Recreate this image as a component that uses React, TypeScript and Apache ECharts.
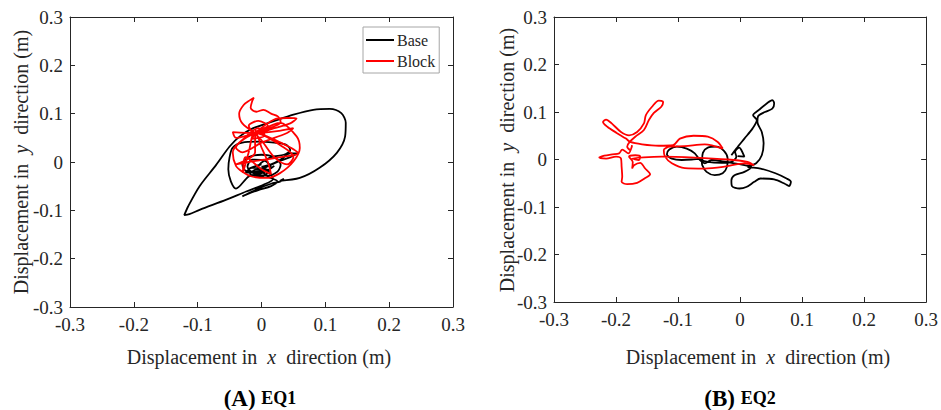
import React, { useEffect, useRef } from "react";
import * as echarts from "echarts";

const AXIS_MIN = -0.3;
const AXIS_MAX = 0.3;
const AXIS_STEP = 0.1;
const seriesNames = ["Base", "Block"];
const panelTitles = [
  ["(A)", "EQ1"],
  ["(B)", "EQ2"],
];

// EQ1 - Base (black)
const eq1Base: number[][] = [
  [0.000, -0.010], [0.015, -0.005], [0.030, 0.005], [0.045, 0.018], [0.057, 0.018], [0.045, 0.010],
  [0.025, 0.000], [0.005, -0.012], [-0.010, -0.020], [-0.025, -0.018], [-0.030, -0.005], [-0.020, 0.010],
  [0.000, 0.015], [0.020, 0.010], [0.030, -0.005], [0.025, -0.020], [0.010, -0.028], [-0.010, -0.025],
  [-0.022, -0.010], [-0.015, 0.005], [0.005, 0.003], [0.015, -0.012], [0.000, -0.022], [-0.020, -0.030],
  [-0.040, -0.055], [-0.048, -0.040], [-0.052, -0.015], [-0.050, 0.010], [-0.045, 0.030], [-0.030, 0.040],
  [-0.005, 0.042], [0.020, 0.040], [0.038, 0.036], [0.045, 0.025], [0.035, 0.015], [0.015, 0.010],
  [-0.005, -0.010], [0.010, -0.030], [0.025, -0.040], [0.015, -0.050], [-0.005, -0.058], [-0.025, -0.068],
  [-0.030, -0.071], [-0.022, -0.066], [-0.005, -0.055], [0.015, -0.045], [0.030, -0.040], [0.035, -0.035],
  [0.029, -0.039], [0.060, -0.033], [0.091, -0.012], [0.118, 0.019], [0.131, 0.053], [0.132, 0.081],
  [0.125, 0.101], [0.107, 0.110], [0.081, 0.108], [0.050, 0.098], [0.018, 0.084], [-0.013, 0.070],
  [-0.034, 0.053], [-0.050, 0.032], [-0.071, -0.006], [-0.097, -0.050], [-0.115, -0.092], [-0.121, -0.110],
  [-0.113, -0.108], [-0.097, -0.099], [-0.055, -0.078], [-0.024, -0.061], [0.003, -0.047], [0.018, -0.035],
  [0.010, -0.020], [-0.008, -0.015], [-0.018, -0.025], [0.000, -0.030], [0.012, -0.018], [-0.015, -0.012],
  [-0.025, -0.022], [0.005, -0.020], [0.020, -0.008], [-0.005, -0.025], [-0.020, -0.015], [0.000, -0.005],
];

// EQ1 - Block (red)
const eq1Block: number[][] = [
  [-0.010, 0.060], [-0.030, 0.080], [-0.035, 0.100], [-0.028, 0.118], [-0.018, 0.128], [-0.012, 0.133],
  [-0.015, 0.124], [-0.017, 0.112], [-0.008, 0.104], [0.003, 0.108], [0.015, 0.100], [0.026, 0.094],
  [0.030, 0.083], [0.022, 0.075], [-0.010, 0.060], [0.020, 0.088], [0.040, 0.091], [0.055, 0.090],
  [0.045, 0.080], [0.020, 0.070], [-0.010, 0.060], [-0.045, 0.062], [-0.040, 0.050], [-0.010, 0.060],
  [0.029, 0.081], [0.055, 0.053], [0.060, 0.029], [0.050, 0.001], [0.029, -0.023], [0.008, -0.033],
  [-0.015, -0.030], [-0.030, -0.020], [-0.040, -0.008], [-0.045, 0.019], [-0.035, 0.040], [-0.010, 0.060],
  [0.000, 0.030], [0.010, 0.000], [0.015, -0.025], [0.000, -0.015], [-0.025, 0.010], [-0.029, -0.023],
  [-0.020, 0.020], [-0.010, 0.060], [0.030, 0.040], [0.057, 0.018], [0.030, 0.010], [-0.020, 0.000],
  [-0.040, -0.005], [-0.010, 0.020], [-0.010, 0.060], [-0.030, 0.045], [-0.040, 0.030], [-0.030, 0.020],
  [0.000, 0.040], [0.040, 0.060], [0.050, 0.070], [0.030, 0.065], [-0.010, 0.060], [-0.020, 0.075],
  [-0.005, 0.085], [0.010, 0.075], [-0.010, 0.060], [0.000, 0.045], [0.020, 0.010], [0.040, -0.005],
  [0.050, 0.010], [0.035, 0.030], [-0.010, 0.060], [-0.025, 0.052], [-0.005, 0.070], [0.005, 0.055],
  [-0.015, 0.048], [-0.008, 0.066],
];

// EQ2 - Base (black)
const eq2Base: number[][] = [
  [-0.014, 0.009], [-0.006, 0.023], [0.007, 0.044], [0.020, 0.065], [0.027, 0.083], [0.021, 0.093],
  [0.031, 0.105], [0.043, 0.118], [0.052, 0.125], [0.055, 0.118], [0.052, 0.107], [0.040, 0.100],
  [0.029, 0.091], [0.028, 0.079], [0.035, 0.058], [0.038, 0.034], [0.035, 0.009], [0.026, -0.008],
  [0.012, -0.015], [0.033, -0.019], [0.057, -0.029], [0.075, -0.040], [0.082, -0.047], [0.079, -0.056],
  [0.072, -0.051], [0.055, -0.042], [0.033, -0.040], [0.023, -0.047], [0.010, -0.058], [-0.001, -0.061],
  [-0.013, -0.056], [-0.014, -0.044], [-0.009, -0.033], [0.007, -0.026], [0.018, -0.015], [0.007, -0.012],
  [-0.009, -0.008], [-0.022, -0.005], [-0.046, -0.001], [-0.057, -0.008], [-0.065, -0.001], [-0.073, 0.013],
  [-0.086, 0.023], [-0.102, 0.027], [-0.114, 0.021], [-0.118, 0.011], [-0.110, 0.002], [-0.094, -0.001],
  [-0.078, 0.000], [-0.063, 0.002], [-0.061, -0.012], [-0.054, -0.026], [-0.041, -0.033], [-0.028, -0.029],
  [-0.021, -0.015], [-0.020, 0.002], [-0.026, 0.018], [-0.038, 0.027], [-0.052, 0.025], [-0.060, 0.014],
  [-0.061, 0.000], [-0.052, -0.005], [-0.030, -0.007], [-0.014, -0.005], [-0.006, 0.006], [-0.008, 0.016],
  [-0.001, 0.025], [0.002, 0.020], [0.007, 0.006], [-0.004, 0.007],
];

// EQ2 - Block (red)
const eq2Block: number[][] = [
  [0.023, -0.012], [0.007, -0.008], [-0.025, -0.015], [-0.057, -0.019], [-0.089, -0.018], [-0.110, -0.008],
  [-0.121, 0.006], [-0.123, 0.020], [-0.113, 0.027], [-0.089, 0.028], [-0.057, 0.032], [-0.028, 0.023],
  [-0.036, 0.037], [-0.052, 0.048], [-0.075, 0.050], [-0.097, 0.044], [-0.108, 0.030], [-0.131, 0.029],
  [-0.158, 0.032], [-0.177, 0.037], [-0.184, 0.044], [-0.199, 0.056], [-0.214, 0.069], [-0.221, 0.079],
  [-0.216, 0.084], [-0.207, 0.076], [-0.192, 0.058], [-0.179, 0.051], [-0.166, 0.058], [-0.155, 0.076],
  [-0.152, 0.093], [-0.142, 0.111], [-0.131, 0.124], [-0.124, 0.121], [-0.127, 0.111], [-0.139, 0.098],
  [-0.147, 0.083], [-0.155, 0.062], [-0.169, 0.048], [-0.178, 0.037], [-0.182, 0.027], [-0.177, 0.020],
  [-0.174, 0.030], [-0.180, 0.013], [-0.190, 0.021], [-0.195, 0.013], [-0.206, 0.011], [-0.219, 0.008],
  [-0.227, 0.004], [-0.216, 0.002], [-0.200, 0.006], [-0.192, 0.002], [-0.191, -0.015], [-0.190, -0.036],
  [-0.191, -0.047], [-0.182, -0.052], [-0.166, -0.049], [-0.153, -0.039], [-0.145, -0.031], [-0.153, -0.019],
  [-0.161, -0.007], [-0.171, -0.012], [-0.174, -0.019], [-0.173, -0.005], [-0.179, 0.006], [-0.169, 0.009],
  [-0.161, 0.006], [-0.163, -0.001], [-0.174, 0.002], [-0.126, 0.006], [-0.073, 0.004], [-0.020, 0.000],
  [0.012, -0.005], [0.020, -0.010],
];

const FONT = "Liberation Serif";
const INK = "#262626";
const TICK_FS = 19;
const TITLE_FS = 20;

function fmt(v: number) {
  if (Math.abs(v) < 1e-9) return "0";
  return v.toFixed(1);
}

function axisCommon(gridIndex: number) {
  return {
    type: "value",
    gridIndex,
    min: AXIS_MIN,
    max: AXIS_MAX,
    interval: AXIS_STEP,
    splitLine: { show: false },
    axisLine: { show: true, onZero: false, lineStyle: { color: INK, width: 1 } },
    axisTick: { show: true, inside: true, length: 5, lineStyle: { color: INK, width: 1 } },
  };
}

function xAxes(gridIndex: number) {
  return [
    {
      ...axisCommon(gridIndex),
      position: "bottom",
      axisLabel: { show: true, margin: 8, fontFamily: FONT, fontSize: TICK_FS, color: INK, formatter: fmt },
    },
    { ...axisCommon(gridIndex), position: "top", axisLabel: { show: false } },
  ];
}

function yAxes(gridIndex: number) {
  return [
    {
      ...axisCommon(gridIndex),
      position: "left",
      axisLabel: { show: true, margin: 7, fontFamily: FONT, fontSize: TICK_FS, color: INK, formatter: fmt },
    },
    { ...axisCommon(gridIndex), position: "right", axisLabel: { show: false } },
  ];
}

function lineSeries(name: string, data: number[][], color: string, axisIdx: number) {
  return {
    type: "line",
    name,
    data,
    xAxisIndex: axisIdx,
    yAxisIndex: axisIdx,
    showSymbol: false,
    symbol: "none",
    smooth: 0.3,
    clip: true,
    lineStyle: { color, width: 1.8 },
    itemStyle: { color },
    emphasis: { disabled: true },
  };
}

export default function App() {
  const ref = useRef<HTMLDivElement>(null);
  useEffect(() => {
    document.body.style.margin = "0";
    if (!ref.current) return;
    const chart = echarts.init(ref.current, null, { renderer: "svg" });
    const grids = [
      { left: 70, top: 17, width: 383, height: 290 },
      { left: 554, top: 17, width: 376, height: 285 },
    ];
    const xTitle = "Displacement in  {i|x}  direction (m)";
    const yTitle = "Displacement in  {i|y}  direction (m)";
    const txt = (x: number, y: number, text: string, rotation = 0) => ({
      type: "text",
      x,
      y,
      rotation,
      style: {
        text,
        fontFamily: FONT,
        fontSize: TITLE_FS,
        fill: INK,
        align: "center",
        verticalAlign: "middle",
        rich: {
          i: { fontFamily: FONT, fontSize: TITLE_FS, fontStyle: "italic", fill: INK },
        },
      },
    });
    const sub = (x: number, y: number, t: string[]) => ({
      type: "text",
      x,
      y,
      style: {
        text: `{a|${t[0]}} {b|${t[1]}}`,
        fontFamily: FONT,
        fontSize: 23,
        fontWeight: "bold",
        align: "center",
        verticalAlign: "middle",
        fill: "#000",
        rich: {
          a: { fontFamily: FONT, fontSize: 23, fontWeight: "bold", fill: "#000" },
          b: { fontFamily: FONT, fontSize: 18, fontWeight: "bold", fill: "#000" },
        },
      },
    });
    chart.setOption({
      animation: false,
      backgroundColor: "#ffffff",
      grid: grids,
      xAxis: [...xAxes(0), ...xAxes(1)],
      yAxis: [...yAxes(0), ...yAxes(1)],
      legend: {
        data: seriesNames,
        orient: "vertical",
        left: 363,
        top: 27,
        icon: "rect",
        itemWidth: 28,
        itemHeight: 2,
        itemGap: 5,
        padding: [5, 4, 4, 3],
        borderColor: "#a6a6a6",
        borderWidth: 1,
        backgroundColor: "#ffffff",
        textStyle: { fontFamily: FONT, fontSize: 16, color: INK, padding: [0, 0, 0, -2] },
        selectedMode: false,
      },
      series: [
        lineSeries(seriesNames[0], eq1Base, "#000000", 0),
        lineSeries(seriesNames[1], eq1Block, "#ff0000", 0),
        lineSeries(seriesNames[0], eq2Base, "#000000", 2),
        lineSeries(seriesNames[1], eq2Block, "#ff0000", 2),
      ],
      graphic: [
        txt(259, 357, xTitle),
        txt(21, 162, yTitle, Math.PI / 2),
        txt(758, 357, xTitle),
        txt(507, 160, yTitle, Math.PI / 2),
        sub(260, 398, panelTitles[0]),
        sub(740, 398, panelTitles[1]),
      ],
    });
    return () => chart.dispose();
  }, []);
  return <div ref={ref} style={{ width: 941, height: 410 }} />;
}
